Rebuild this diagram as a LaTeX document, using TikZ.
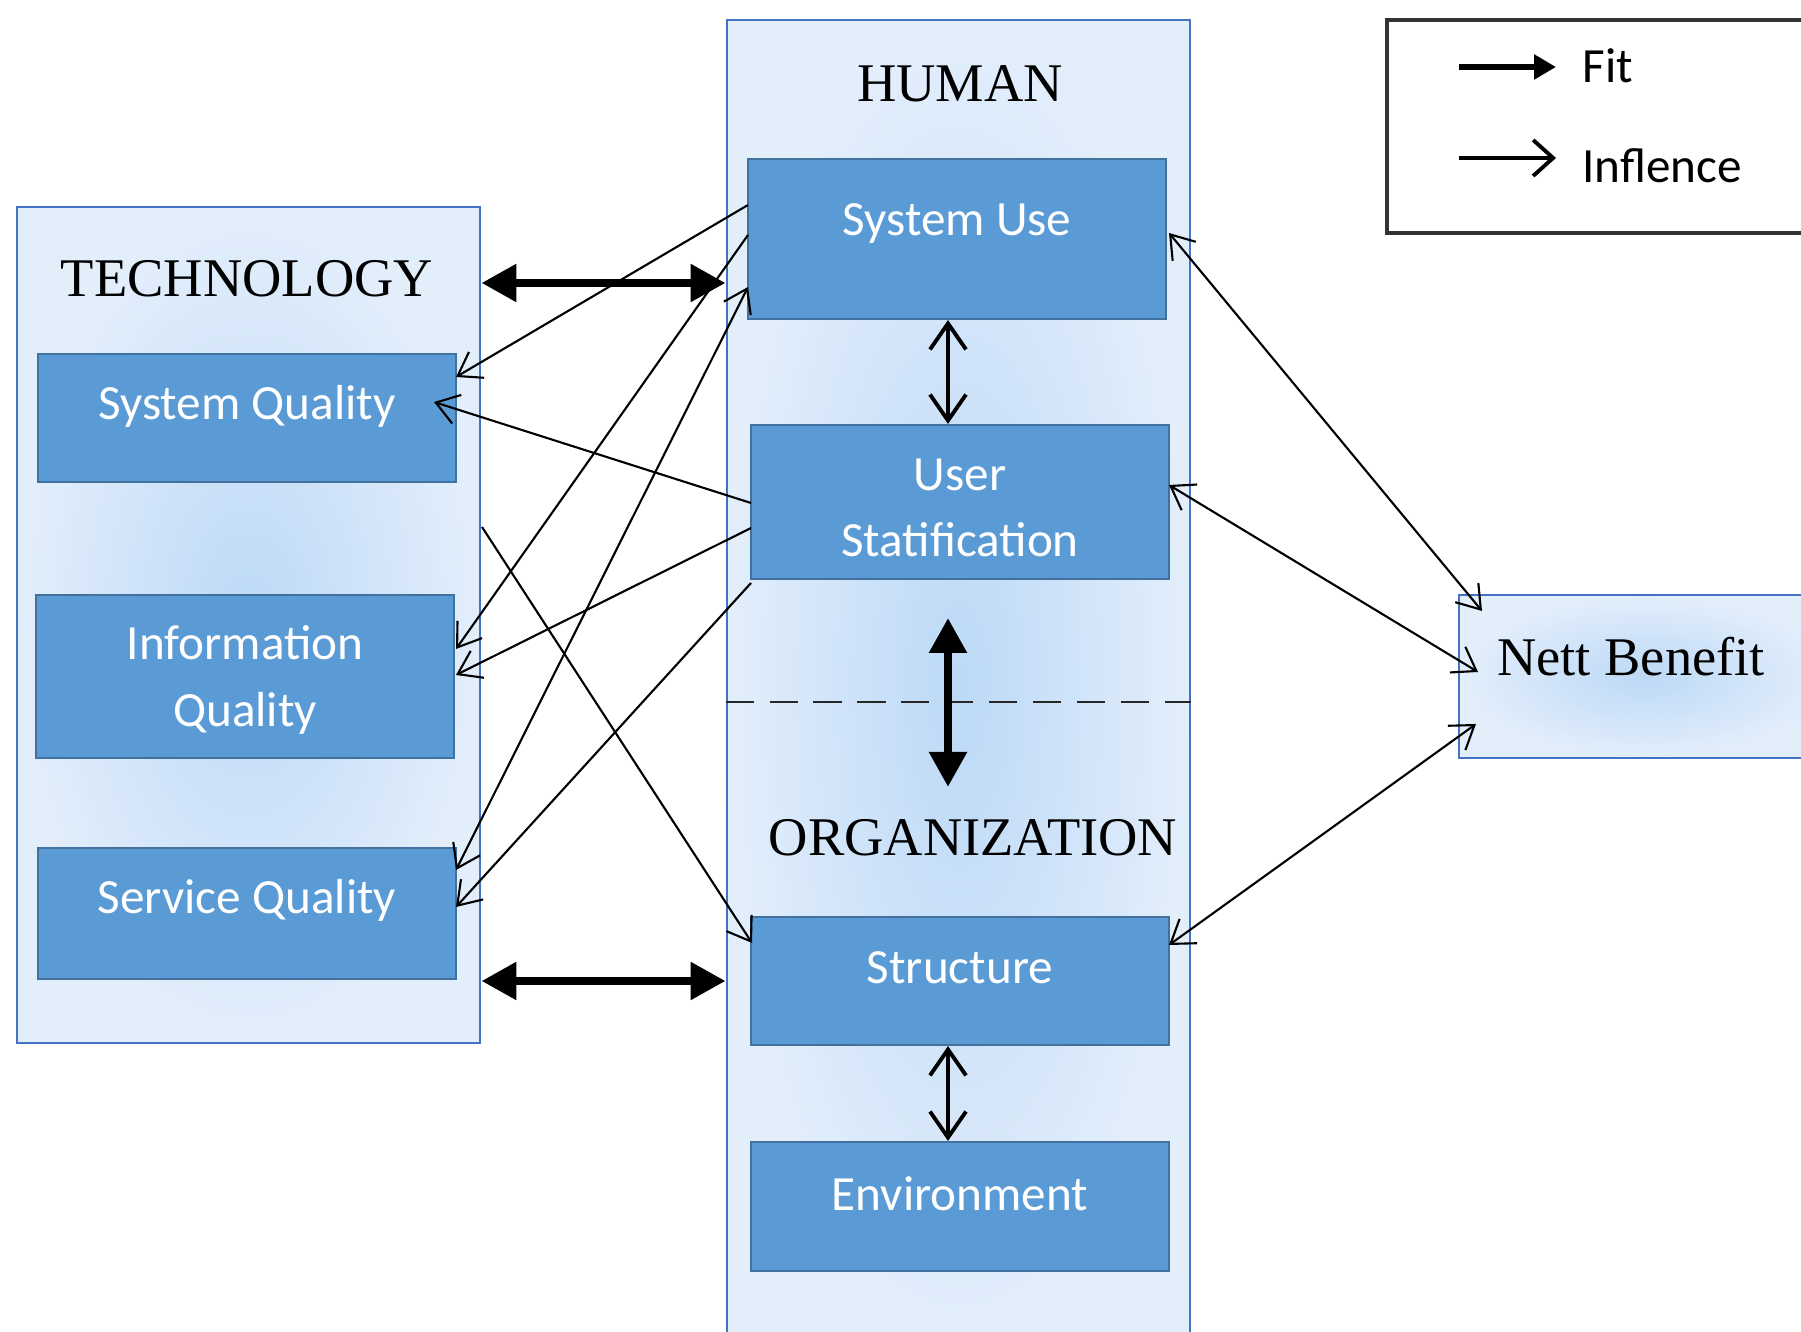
\documentclass[tikz,border=0pt]{standalone}
\usepackage{fontspec}
\setmainfont{Liberation Serif}
\newfontfamily\calibri{Carlito}
\usepackage{tikz}
\usetikzlibrary{arrows.meta, calc, positioning}
\definecolor{boxline}{HTML}{4472C4}
\definecolor{boxinner}{HTML}{BCD9F6}
\definecolor{boxouter}{HTML}{E3EEFB}
\definecolor{factorfill}{HTML}{5B9BD5}
\definecolor{factorline}{HTML}{41719C}
\tikzset{
    container/.style={draw=boxline, line width=0.8pt, inner color=boxinner, outer color=boxouter},
    factor/.style={draw=factorline, line width=0.6pt, fill=factorfill, minimum width=4.18cm},
    factortext/.style={text=white, font=\calibri\fontsize{14}{19}\selectfont, align=center},
    heading/.style={font=\fontsize{15.5}{18}\selectfont},
    legendtext/.style={font=\calibri\fontsize{14}{17}\selectfont, anchor=west},
    fitarrow/.style={line width=2.4pt, {Triangle[length=3.5mm, width=3.6mm]}-{Triangle[length=3.5mm, width=3.6mm]}},
    inner/.style={line width=1.1pt, {Straight Barb[length=2.6mm, width=3.6mm]}-{Straight Barb[length=2.6mm, width=3.6mm]}},
    influence/.style={line width=0.6pt, -{Straight Barb[length=2.2mm, width=3mm]}},
    mutual/.style={line width=0.6pt, {Straight Barb[length=2.2mm, width=3mm]}-{Straight Barb[length=2.2mm, width=3mm]}}
}
\newcommand{\container}[5]{
    \node[container, minimum width=#4cm, minimum height=#5cm] (#1) at (#2, #3) {};
}
\newcommand{\factor}[6]{
    \node[factor, minimum height=#4cm] (#1) at (#2, #3) {};
    \node[factortext] (#1-t) at (#2, #5) {#6};
}

\begin{document}
\begin{tikzpicture}
    \useasboundingbox (0, 0) rectangle (18.01, -13.32);
    % groups
    \container{tech}{2.485}{-6.25}{4.63}{8.36}
    \container{human}{9.585}{-6.85}{4.63}{13.3}
    \container{nett}{16.445}{-6.765}{3.71}{1.63}
    \node[draw=black!80, line width=0.9pt, minimum width=4.43cm, minimum height=2.13cm] (legend) at (16.085, -1.265) {};
    \node[heading] (techlabel) at (2.47, -2.79) {TECHNOLOGY};
    \node[heading] (humanlabel) at (9.60, -0.84) {HUMAN};
    \node[heading] (orglabel) at (9.73, -8.38) {ORGANIZATION};
    \node[heading] (nettlabel) at (16.31, -6.57) {Nett Benefit};
    % factors
    \factor{sysq}{2.47}{-4.18}{1.28}{-4.06}{System Quality}
    \factor{infoq}{2.45}{-6.765}{1.63}{-6.80}{Information\\Quality}
    \factor{servq}{2.47}{-9.135}{1.31}{-9.00}{Service Quality}
    \factor{su}{9.57}{-2.39}{1.60}{-2.24}{System Use}
    \factor{us}{9.60}{-5.02}{1.54}{-5.08}{User\\Statification}
    \factor{str}{9.60}{-9.81}{1.28}{-9.68}{Structure}
    \factor{env}{9.60}{-12.065}{1.29}{-11.94}{Environment}
    % legend
    \coordinate (fit-a) at (14.59, -0.67);
    \coordinate (fit-b) at (15.56, -0.67);
    \coordinate (inf-a) at (14.59, -1.58);
    \coordinate (inf-b) at (15.56, -1.58);
    \node[legendtext] (fit-t) at (15.70, -0.66) {Fit};
    \node[legendtext] (inf-t) at (15.70, -1.66) {Inflence};
    \draw[line width=1.8pt, -{Triangle[length=2.2mm, width=2.4mm]}] (fit-a) -- (fit-b);
    \draw[line width=1.1pt, -{Straight Barb[length=2mm, width=3.6mm]}] (inf-a) -- (inf-b);
    % fit between groups
    \coordinate (axis) at (9.48, 0);
    \coordinate (fit-top) at (4.8, -2.83);
    \coordinate (split) at (9.48, -7.02);
    \coordinate (split-u) at (9.48, -6.18);
    \coordinate (split-d) at (9.48, -7.87);
    \draw[dashed, dash pattern=on 8pt off 4.5pt, line width=0.7pt, black!85] (human.west |- split) -- (human.east |- split);
    \draw[fitarrow] (tech.east |- fit-top) -- (human.west |- fit-top);
    \draw[fitarrow] (tech.east |- str) -- (human.west |- str);
    \draw[fitarrow] (split-u) -- (split-d);
    \draw[inner] (axis |- su.south) -- (axis |- us.north);
    \draw[inner] (axis |- str.south) -- (axis |- env.north);
    % edge points
    \coordinate (su-w1) at (7.48, -2.05);
    \coordinate (su-w2) at (7.48, -2.35);
    \coordinate (su-w3) at (7.48, -2.87);
    \coordinate (us-w1) at (7.51, -5.03);
    \coordinate (us-w2) at (7.51, -5.28);
    \coordinate (us-w3) at (7.51, -5.83);
    \coordinate (sysq-e1) at (4.56, -3.77);
    \coordinate (sysq-e2) at (4.34, -4.02);
    \coordinate (infoq-e1) at (4.56, -6.49);
    \coordinate (infoq-e2) at (4.56, -6.75);
    \coordinate (servq-e1) at (4.56, -8.70);
    \coordinate (servq-e2) at (4.56, -9.07);
    \coordinate (tech-e) at (4.82, -5.27);
    \coordinate (str-w) at (7.52, -9.43);
    \coordinate (su-e) at (11.69, -2.33);
    \coordinate (us-e) at (11.69, -4.85);
    \coordinate (str-e) at (11.69, -9.45);
    \coordinate (nett-w1) at (14.82, -6.11);
    \coordinate (nett-w2) at (14.78, -6.72);
    \coordinate (nett-w3) at (14.76, -7.24);
    % influence
    \draw[influence] (su-w1) -- (sysq-e1);
    \draw[influence] (us-w1) -- (sysq-e2);
    \draw[influence] (su-w2) -- (infoq-e1);
    \draw[influence] (us-w2) -- (infoq-e2);
    \draw[mutual] (su-w3) -- (servq-e1);
    \draw[influence] (us-w3) -- (servq-e2);
    \draw[influence] (tech-e) -- (str-w);
    \draw[mutual] (su-e) -- (nett-w1);
    \draw[mutual] (us-e) -- (nett-w2);
    \draw[mutual] (str-e) -- (nett-w3);
\end{tikzpicture}
\end{document}
